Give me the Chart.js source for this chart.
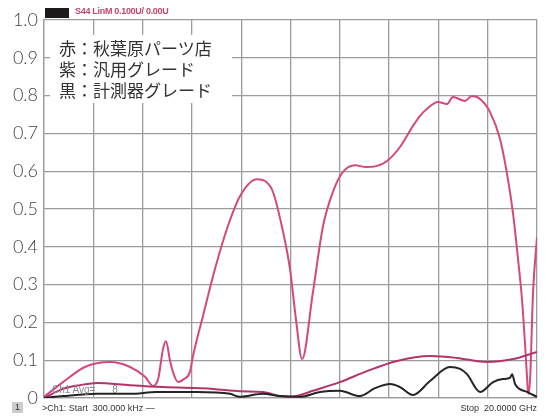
<!DOCTYPE html>
<html>
<head>
<meta charset="utf-8">
<script src="https://cdn.jsdelivr.net/npm/chart.js@4.4.1/dist/chart.umd.min.js"></script>
<style>
  body { margin: 0; background: #fff; }
  #wrap { position: relative; width: 546px; height: 419px; overflow: hidden; }
  #c { position: absolute; left: 0; top: 0; }
  .hdr-box { position: absolute; left: 45px; top: 8px; width: 24px; height: 10px; background: #1d1a1b; }
  .hdr { position: absolute; left: 75px; top: 6px; font: bold 9px "Liberation Sans", sans-serif; color: #c0466a; letter-spacing: -0.3px; }
  .note { position: absolute; left: 50px; top: 35px; width: 182px; height: 68px; background: #fff;
          font: 17px "Noto Sans CJK JP", sans-serif; color: #333; line-height: 21px; padding: 2px 0 0 9px; box-sizing: border-box; }
  .avg { position: absolute; left: 52px; top: 384px; font: 10px "Liberation Sans", sans-serif; color: #888; }
  .foot { position: absolute; top: 403px; font: 9px "Liberation Sans", sans-serif; color: #333; }
  .one { position: absolute; left: 12px; top: 402px; width: 11px; height: 11px; background: #ccc; font: 9px "Liberation Sans", sans-serif; color: #333; text-align: center; line-height: 11px; }
</style>
</head>
<body>
<div id="wrap">
  <canvas id="c" width="546" height="419"></canvas>
  <div class="hdr-box"></div>
  <div class="hdr">S44 LinM 0.100U/ 0.00U</div>
  <div class="note">赤：秋葉原パーツ店<br>紫：汎用グレード<br>黒：計測器グレード</div>
  <div class="avg">Ch1 Avg=&nbsp;&nbsp;&nbsp;&nbsp;&nbsp;&nbsp;8</div>
  <div class="one">1</div>
  <div class="foot" style="left:42px;">&gt;Ch1: Start&nbsp; 300.000 kHz &mdash;</div>
  <div class="foot" style="right:9px;">Stop&nbsp; 20.0000 GHz</div>
</div>
<script>
// frequency in GHz, magnitude in linear units
var akibaFreq = [0, 0.77, 1.66, 2.68, 3.49, 4.10, 4.42, 4.63, 4.83, 4.95, 5.11, 5.23, 5.44, 5.68, 5.92, 6.04, 6.45, 6.86, 7.42, 7.95, 8.64, 8.97, 9.29, 9.70, 9.98, 10.22, 10.47, 10.91, 11.32, 11.72, 12.13, 12.62, 13.06, 13.51, 13.92, 14.44, 14.97, 15.25, 15.54, 15.98, 16.35, 16.59, 17.08, 17.36, 17.69, 18.09, 18.50, 18.82, 19.03, 19.23, 19.39, 19.51, 19.60, 19.64, 19.72, 19.84, 20];
var akibaVal = [0.003, 0.042, 0.082, 0.095, 0.082, 0.056, 0.032, 0.05, 0.13, 0.15, 0.10, 0.069, 0.042, 0.05, 0.069, 0.11, 0.217, 0.323, 0.447, 0.534, 0.579, 0.574, 0.545, 0.439, 0.341, 0.209, 0.103, 0.28, 0.455, 0.545, 0.598, 0.616, 0.611, 0.614, 0.627, 0.664, 0.72, 0.746, 0.765, 0.783, 0.778, 0.796, 0.786, 0.799, 0.791, 0.757, 0.685, 0.579, 0.487, 0.368, 0.262, 0.148, 0.05, 0.011, 0.05, 0.28, 0.426];

var generalFreq = [0, 0.77, 1.46, 2.15, 3.49, 4.83, 6.86, 7.95, 8.88, 9.57, 9.98, 10.39, 10.91, 12.0, 13.1, 14.32, 15.66, 16.75, 17.97, 19.03, 20];
var generalVal = [0, 0.024, 0.034, 0.04, 0.034, 0.029, 0.024, 0.018, 0.016, 0.005, 0.003, 0.008, 0.019, 0.042, 0.071, 0.098, 0.111, 0.106, 0.095, 0.103, 0.122];

var instrFreq = [0, 0.77, 2.15, 3.49, 4.58, 6.21, 7.55, 7.95, 8.88, 9.57, 10.39, 11.2, 12.0, 12.82, 13.43, 14.04, 14.44, 14.97, 15.66, 16.47, 16.88, 17.16, 17.69, 18.22, 18.62, 18.9, 18.99, 19.11, 19.6, 20];
var instrVal = [0, 0.005, 0.011, 0.011, 0.016, 0.016, 0.011, 0.003, 0.011, 0.005, 0.003, 0.016, 0.019, 0.005, 0.026, 0.037, 0.029, 0.008, 0.045, 0.082, 0.077, 0.063, 0.016, 0.042, 0.05, 0.053, 0.063, 0.037, 0.016, 0.003];

var yTickLabels = ['0', '0.1', '0.2', '0.3', '0.4', '0.5', '0.6', '0.7', '0.8', '0.9', '1.0'];

function pts(xs, ys) {
    return xs.map(function (x, i) { return { x: x, y: ys[i] }; });
}

function series(xs, ys, color) {
    return {
        data: pts(xs, ys),
        borderColor: color,
        borderWidth: 2,
        pointRadius: 0,
        fill: false,
        cubicInterpolationMode: 'monotone'
    };
}

new Chart(document.getElementById('c'), {
    type: 'line',
    data: {
        datasets: [
            series(instrFreq, instrVal, '#262324'),
            series(generalFreq, generalVal, '#b2346c'),
            series(akibaFreq, akibaVal, '#d4487f')
        ]
    },
    options: {
        responsive: false,
        animation: false,
        layout: { padding: { top: 20, right: 9, bottom: 21, left: 0 } },
        plugins: { legend: { display: false }, tooltip: { enabled: false } },
        scales: {
            x: {
                type: 'linear',
                min: 0,
                max: 20,
                ticks: { display: false, stepSize: 2 },
                grid: { color: '#9c9c9c', lineWidth: 1.3, drawTicks: false },
                border: { color: '#9c9c9c', width: 1.3 },
                afterFit: function (s) { s.height = 0; }
            },
            y: {
                min: 0,
                max: 1,
                ticks: {
                    stepSize: 0.1,
                    padding: 6,
                    color: '#444',
                    font: { family: 'Lato', size: 18, weight: 300 },
                    callback: function (value, index) { return yTickLabels[index]; }
                },
                grid: { color: '#9c9c9c', lineWidth: 1.3, drawTicks: false },
                border: { color: '#9c9c9c', width: 1.3 },
                afterFit: function (s) { s.width = 44; }
            }
        }
    }
});
</script>
</body>
</html>
